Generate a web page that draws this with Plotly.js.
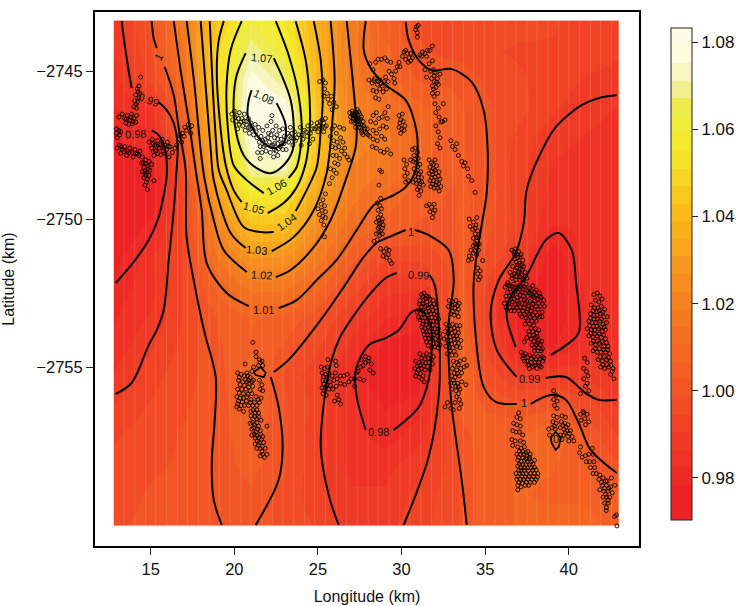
<!DOCTYPE html>
<html>
<head>
<meta charset="utf-8">
<script src="https://cdn.plot.ly/plotly-3.0.1.min.js"></script>
<style>html,body{margin:0;padding:0;background:#fff}</style>
</head>
<body>
<div id="chart" style="width:740px;height:606px"></div>
<script>
const lonNodes=[12.8,15,17,19,21,23,25,27,29,31,33,33.6,35,37,39,41,43];
const latNodes=[-2743.3,-2744.3,-2745.3,-2746.3,-2747.3,-2748.3,-2749.3,-2750.3,-2751.3,-2752.3,-2753.3,-2754.3,-2755.3,-2756.3,-2757.3,-2758.3,-2759.3,-2760.35];
const gridValues=[
[.989,.9995,1.018,1.045,1.063,1.055,1.037,1.017,1.005,.998,.998,.998,.997,.996,.995,.993,.991],
[.987,.998,1.015,1.05,1.07,1.06,1.037,1.016,1.008,.999,.997,.997,.995,.994,.994,.993,.991],
[.985,.996,1.011,1.051,1.078,1.068,1.038,1.017,1.009,1.002,1.002,1.001,.998,.995,.993,.990,.989],
[.982,.986,1.008,1.047,1.081,1.08,1.043,1.019,1.014,1.008,1.004,1.003,.9995,.996,.991,.988,.986],
[.978,.981,1.003,1.043,1.078,1.081,1.042,1.023,1.016,1.009,1.004,1.003,1.0003,.993,.988,.986,.985],
[.972,.975,.999,1.041,1.071,1.072,1.039,1.018,1.015,1.008,1.003,1.003,1.001,.992,.986,.984,.984],
[.972,.975,.995,1.03,1.055,1.052,1.031,1.016,1.009,1.004,1.002,1.003,1.002,.992,.985,.984,.984],
[.973,.98,.996,1.021,1.041,1.042,1.023,1.011,1.005,1.002,1.002,1.004,1.0,.993,.982,.983,.984],
[.976,.986,.995,1.015,1.027,1.026,1.017,1.004,.995,.9955,1.0,1.004,.998,.991,.975,.985,.985],
[.98,.985,.995,1.008,1.016,1.016,1.008,.997,.988,.987,1.0,1.004,.995,.978,.976,.983,.985],
[.982,.987,.995,1.003,1.007,1.006,1.0,.99,.983,.98,1.0,1.006,.992,.976,.975,.983,.985],
[.984,.99,.996,1.002,1.006,1.002,.995,.985,.977,.976,1.002,1.008,.995,.979,.978,.984,.986],
[.987,.993,.997,1.001,1.009,.998,.991,.981,.974,.976,1.002,1.008,.998,.99,.9895,.989,.987],
[.991,.995,.998,1.001,1.006,.9995,.993,.984,.978,.98,1.0,1.006,1.002,1.0,1.001,.997,.9895],
[.994,.997,.999,1.001,1.005,.9995,.9905,.985,.98,.985,.997,1.001,1.005,1.006,1.01,1.002,.994],
[.996,.998,.999,1.001,1.004,.999,.991,.985,.985,.989,.996,1.0,1.005,1.007,1.007,1.003,.999],
[.997,.999,.9995,1.0,1.002,.997,.992,.987,.987,.992,.997,.9995,1.005,1.007,1.006,1.006,1.003],
[.998,.9995,.9995,.9995,1.001,.997,.994,.988,.989,.993,.997,.9995,1.005,1.007,1.008,1.008,1.005]
];
const bandColors=['#ED2224','#ED2224','#EE2A25','#EF3225','#EF3A25','#F04325','#F14C25','#F25525','#F35E24','#F36723','#F36F22','#F47A20','#F58420','#F68E1F','#F7981E','#F9A61C','#FAB01B','#FBBB1A','#F9C81F','#F7D626','#F5E32A','#F3EA2B','#F1EC3C','#EEEB4E','#F1EE90','#F8F6C0','#FDFBE0','#FEFCE4'];
const colorMin=0.9703, colorMax=1.0833;
const colorTicks=[0.98,1.00,1.02,1.04,1.06,1.08];
const lonTicks=[15,20,25,30,35,40];
const latTicks=[-2745,-2750,-2755];
const seamLons=[13.4,14.05,14.7,15.3,15.95,16.6,17.2,17.85,18.5,19.1,19.75,20.4,21.0,21.65,22.3,22.9,23.55,24.2,24.8,25.45,26.1,26.7,27.35,28.0,28.6,29.25,29.9,30.5,31.15,31.8,32.4,33.05,33.7,34.3,34.95,35.6,36.2,36.85,37.5,38.1,38.75,39.4,40.0,40.65,41.3,41.9,42.55];

const c108Lon=[21.04,20.86,20.80,21.16,21.76,22.36,22.95,23.07,22.53];
const c108Lat=[-2745.64,-2745.98,-2746.49,-2746.99,-2747.43,-2747.60,-2747.43,-2746.82,-2746.08];
const c107Lon=[20.68,20.14,19.96,20.08,20.56,21.34,22.18,22.95,23.49,23.55,23.37,22.95,22.36];
const c107Lat=[-2744.39,-2745.14,-2745.98,-2746.99,-2747.84,-2748.28,-2748.45,-2748.18,-2747.67,-2746.82,-2745.98,-2745.30,-2744.56];
const c106aLon=[20.44,19.78,19.54,19.60,19.96,20.74,21.76];
const c106aLat=[-2743.31,-2744.29,-2745.47,-2746.82,-2748.18,-2748.68,-2749.12];
const c106bLon=[22.48,23.25,23.79,24.03,23.97,23.73,23.25];
const c106bLat=[-2743.31,-2744.46,-2745.64,-2746.82,-2747.57,-2748.24,-2748.61];
const c105aLon=[19.37,19.07,18.95,19.13,19.49,19.96,20.44];
const c105aLat=[-2743.31,-2743.95,-2744.97,-2746.66,-2748.18,-2749.02,-2749.43];
const c105bLon=[23.67,24.27,24.51,24.51,24.27,23.73,22.95,22.0];
const c105bLat=[-2743.31,-2744.63,-2745.98,-2746.99,-2748.11,-2748.92,-2749.46,-2749.80];
const c104aLon=[18.53,18.71,18.89,19.07,19.54,20.56,21.58,22.36];
const c104aLat=[-2743.31,-2745.54,-2747.23,-2748.34,-2749.02,-2750.27,-2750.44,-2750.44];
const c104bLon=[23.67,24.33,24.93,25.17,25.29,25.17,24.75];
const c104bLat=[-2749.73,-2749.02,-2748.24,-2746.99,-2745.98,-2744.63,-2743.31];
const c103aLon=[17.99,18.29,18.59,18.77,19.78,20.68];
const c103aLat=[-2743.31,-2745.54,-2747.67,-2748.68,-2750.47,-2750.98];
const c103bLon=[22.24,23.55,24.75,25.52,25.82,26.0,25.76];
const c103bLat=[-2751.08,-2750.61,-2749.70,-2748.45,-2746.99,-2745.30,-2743.31];
const c102aLon=[17.15,17.63,17.99,18.23,18.77,19.37,20.74];
const c102aLat=[-2743.31,-2745.54,-2747.67,-2748.68,-2750.03,-2751.05,-2751.79];
const c102bLon=[22.48,23.37,24.75,25.76,26.66,27.26,27.32,27.08,26.72];
const c102bLat=[-2751.96,-2751.72,-2750.95,-2750.03,-2748.68,-2747.57,-2746.99,-2745.30,-2743.31];
const c101aLon=[16.38,16.79,17.27,17.69,18.05,18.35,19.54,20.86];
const c101aLat=[-2743.31,-2744.97,-2746.66,-2748.34,-2749.70,-2751.49,-2752.50,-2752.94];
const c101bLon=[22.65,23.73,24.93,26.12,27.32,28.34,29.53,30.25,30.85,30.91,30.25,29.05,28.16,27.74,27.86];
const c101bLat=[-2753.01,-2752.74,-2752.06,-2751.38,-2750.37,-2749.53,-2749.19,-2748.92,-2748.34,-2747.09,-2745.98,-2745.47,-2744.90,-2744.29,-2743.31];
const c100aLon=[15.06,15.18,15.36];
const c100aLat=[-2743.31,-2743.89,-2744.22];
const c100bLon=[15.84,16.38,16.67,17.09,17.15,17.57,18.05,18.29,18.89,18.83,18.65,18.77,19.25];
const c100bLat=[-2744.86,-2745.81,-2746.89,-2748.34,-2750.61,-2752.06,-2753.41,-2753.99,-2755.34,-2756.79,-2758.24,-2759.49,-2760.34];
const c100cLon=[21.28,22.65,22.89,22.65,22.18];
const c100cLat=[-2760.34,-2758.82,-2757.70,-2756.35,-2755.34];
const c100dLon=[22.36,23.25,25.17,26.54,27.74,28.51,29.53,30.25];
const c100dLat=[-2755.17,-2754.76,-2753.41,-2752.30,-2751.28,-2750.81,-2750.54,-2750.37];
const c100eLon=[30.79,31.62,32.82,33.12,32.82,32.82,33.0,33.6,33.9];
const c100eLat=[-2750.37,-2750.54,-2751.05,-2752.06,-2753.51,-2754.76,-2756.35,-2758.82,-2760.34];
const c100fLon=[30.25,30.43,31.03,31.80,33.0,34.2,34.91,35.15,35.09,34.61,34.32,34.44,34.91,35.63,36.89];
const c100fLat=[-2743.34,-2743.95,-2744.63,-2744.97,-2744.93,-2745.37,-2746.32,-2747.67,-2749.12,-2750.81,-2752.06,-2753.99,-2755.67,-2756.18,-2756.25];
const c100gLon=[37.72,38.98,39.82,40.59,41.31,42.87];
const c100gLat=[-2756.25,-2755.94,-2756.11,-2756.89,-2757.80,-2758.58];
const c099aLon=[13.27,13.45,13.68,13.86];
const c099aLat=[-2743.31,-2744.12,-2744.97,-2745.57];
const c099bLon=[15.48,15.96,16.38,16.61,16.55,16.38,16.08,15.78,15.36,14.88,13.86,12.91];
const c099bLat=[-2746.05,-2746.32,-2746.76,-2747.50,-2748.34,-2749.70,-2751.38,-2753.07,-2753.75,-2754.26,-2755.54,-2755.91];
const c099cLon=[26.24,25.64,25.17,25.64,26.24,26.96,28.16,29.05,29.71];
const c099cLat=[-2760.34,-2759.32,-2757.70,-2755.20,-2754.09,-2753.41,-2752.50,-2751.99,-2751.82];
const c099dLon=[31.68,31.98,32.28,32.22,31.62,30.13];
const c099dLat=[-2751.89,-2752.23,-2754.32,-2756.01,-2758.04,-2760.34];
const c099eLon=[42.87,41.97,40.77,39.22,38.2,37.48,37.31,36.83,35.81,35.33,35.69,36.89];
const c099eLat=[-2745.81,-2745.88,-2746.15,-2746.89,-2747.91,-2749.02,-2750.13,-2751.15,-2752.06,-2753.17,-2754.42,-2755.34];
const c099fLon=[38.62,39.82,41.01,41.79,42.87];
const c099fLat=[-2755.37,-2755.34,-2755.88,-2756.11,-2756.11];
const c098aLon=[15.06,15.48,15.84,15.96,15.78,15.48,14.88,13.98,12.91];
const c098aLat=[-2747,-2747.16,-2747.6,-2748.51,-2749.19,-2749.93,-2750.71,-2751.45,-2752.16];
const c098bLon=[29.53,31.03,31.62,31.80,31.74,31.15,30.61,29.83,29.05,28.04,27.26,27.32,27.86];
const c098bLat=[-2757.13,-2756.35,-2755.44,-2754.42,-2753.58,-2753.07,-2753.14,-2753.75,-2754.02,-2754.26,-2755.10,-2756.01,-2757.13];
const c098cLon=[36.83,36.29,36.41,37.43,38.62,39.4,40.18,40.42,40.59,39.7,38.92];
const c098cLat=[-2754.32,-2753.31,-2752.74,-2751.96,-2750.71,-2750.47,-2751.05,-2752.06,-2753.85,-2754.32,-2754.59];
const loopALon=[21.16,21.58,21.88,21.76,21.28,21.16];
const loopALat=[-2755.17,-2755.0,-2755.2,-2755.34,-2755.27,-2755.17];
const loopBLon=[38.92,39.22,39.52,39.4,39.22,38.98,38.92];
const loopBLat=[-2757.40,-2757.19,-2757.40,-2757.70,-2757.80,-2757.57,-2757.40];

const labelText=['1.08','1.07','1.06','1.05','1.04','1.03','1.02','1.01','1','0.99','0.98','1','0.99','0.98','0.99','1','0'];
const labelLon=[21.76,21.64,22.53,21.16,23.13,21.34,21.64,21.76,15.48,14.88,14.10,30.55,31.03,28.64,37.66,37.31,39.22];
const labelLat=[-2745.88,-2744.56,-2748.92,-2749.63,-2750.10,-2751.05,-2751.89,-2753.07,-2744.53,-2745.98,-2747.13,-2750.44,-2751.89,-2757.20,-2755.40,-2756.21,-2757.43];
const labelAngle=[25,5,-30,15,-35,5,3,0,-60,20,-3,0,3,0,0,0,0];

const west=[14.4,-2745.2,14.3,-2745.5,14.2,-2745.6,14.35,-2745.75,14.1,-2745.8,14.3,-2745.9,14.05,-2746.0,14.2,-2746.05,14.0,-2746.2,14.15,-2746.25,13.1,-2746.55,13.3,-2746.45,13.45,-2746.6,13.6,-2746.5,13.75,-2746.65,13.85,-2746.45,14.0,-2746.6,14.15,-2746.5,13.5,-2746.75,13.7,-2746.8,13.9,-2746.78,14.1,-2746.72,12.95,-2746.95,13.1,-2747.0,12.95,-2747.1,13.15,-2747.15,13.0,-2747.25,13.2,-2747.05,13.0,-2747.6,13.15,-2747.5,13.3,-2747.65,13.45,-2747.55,13.6,-2747.7,13.75,-2747.6,13.9,-2747.75,14.05,-2747.65,14.2,-2747.8,14.35,-2747.7,13.2,-2747.78,13.55,-2747.85,13.95,-2747.9,14.5,-2747.9,14.7,-2748.0,14.45,-2748.1,14.9,-2748.05,14.6,-2748.25,14.8,-2748.2,15.05,-2748.15,14.5,-2748.4,14.75,-2748.45,14.95,-2748.35,14.6,-2748.6,14.8,-2748.65,14.65,-2748.85,14.8,-2749.0,15.2,-2748.7,14.9,-2747.4,15.1,-2747.3,15.25,-2747.5,15.4,-2747.35,15.55,-2747.45,15.7,-2747.3,15.85,-2747.5,16.0,-2747.4,15.05,-2747.6,15.3,-2747.7,15.5,-2747.6,15.75,-2747.7,15.95,-2747.65,16.15,-2747.55,15.2,-2747.85,15.6,-2747.82,16.3,-2747.75,16.45,-2747.6,16.1,-2747.9,16.55,-2747.5,16.7,-2747.3,16.85,-2747.4,17.0,-2747.2,16.9,-2747.1,17.15,-2747.0,17.05,-2746.9,17.3,-2746.95,17.25,-2746.8,17.45,-2746.85,17.4,-2747.1,16.75,-2747.15,13.25,-2747.55,13.4,-2747.72,13.7,-2747.75,14.1,-2747.78,14.3,-2747.85,14.55,-2748.1,14.72,-2748.12,14.85,-2748.3,14.65,-2748.38,14.7,-2748.52,14.9,-2748.52,14.75,-2748.75,15.15,-2747.45,15.35,-2747.55,15.6,-2747.5,15.8,-2747.6,16.05,-2747.55,15.15,-2747.72,15.42,-2747.78,15.85,-2747.78,13.55,-2746.62,13.8,-2746.55,13.95,-2746.7,14.25,-2745.7,14.12,-2746.12];
const centre=[19.85,-2746.45,20.0,-2746.35,20.15,-2746.5,19.9,-2746.65,20.1,-2746.7,20.3,-2746.4,20.45,-2746.6,20.6,-2746.45,20.3,-2746.8,20.5,-2746.85,20.7,-2746.7,20.85,-2746.6,20.2,-2746.95,20.65,-2747.0,20.85,-2746.9,21.0,-2746.75,21.1,-2746.95,21.25,-2746.8,20.9,-2747.1,21.3,-2747.05,21.45,-2746.9,21.6,-2747.2,21.5,-2747.4,21.7,-2747.0,21.85,-2747.3,21.75,-2747.55,21.95,-2746.85,22.05,-2747.1,22.1,-2747.4,21.9,-2747.7,22.2,-2746.7,22.3,-2747.0,22.4,-2747.25,22.3,-2747.5,22.15,-2747.75,22.5,-2746.85,22.55,-2747.15,22.6,-2747.45,22.5,-2747.7,22.7,-2747.0,22.8,-2747.3,22.75,-2747.55,22.9,-2746.95,23.0,-2747.2,22.95,-2747.45,23.1,-2747.65,23.2,-2747.1,23.25,-2747.4,23.35,-2746.9,23.4,-2747.25,23.5,-2747.5,23.6,-2747.05,23.65,-2747.35,21.65,-2747.75,22.35,-2747.9,21.4,-2747.75,21.55,-2747.95,22.6,-2747.85,22.25,-2746.5,23.85,-2747.15,23.95,-2746.9,24.1,-2747.3,24.2,-2747.0,24.35,-2747.2,24.4,-2746.85,24.55,-2747.1,24.6,-2746.75,24.7,-2747.3,24.8,-2746.95,24.95,-2746.75,25.0,-2747.05,25.15,-2746.7,25.2,-2746.9,25.35,-2746.75,25.35,-2747.05,25.5,-2746.85,25.45,-2746.6,24.0,-2747.5,24.5,-2747.45,20.05,-2746.55,20.25,-2746.6,20.4,-2746.72,20.58,-2746.68,20.75,-2746.82,20.95,-2746.95,21.15,-2747.15,21.35,-2747.25,21.55,-2747.55,21.7,-2747.35,21.85,-2747.5,22.0,-2747.25,22.2,-2747.15,22.2,-2747.55,22.4,-2747.45,22.4,-2747.65,22.6,-2747.3,22.65,-2747.62,22.85,-2747.45,22.9,-2747.65,23.1,-2747.35,23.3,-2747.2,23.45,-2747.1,23.55,-2747.3,23.75,-2747.25,24.05,-2747.15,24.3,-2747.05,24.65,-2746.95,24.9,-2746.9,25.05,-2746.85,25.25,-2746.65,25.4,-2746.9];
const ridge=[25.1,-2745.35,25.3,-2745.3,25.45,-2745.4,25.4,-2745.6,25.55,-2745.75,25.35,-2745.85,25.6,-2745.95,25.8,-2745.85,25.7,-2746.1,25.95,-2746.05,26.1,-2746.2,25.85,-2746.3,25.85,-2746.95,26.0,-2746.85,26.1,-2747.1,26.3,-2746.9,26.55,-2746.95,25.75,-2747.2,25.95,-2747.35,26.15,-2747.4,26.35,-2747.25,26.5,-2747.4,25.85,-2747.55,26.05,-2747.6,26.25,-2747.55,26.4,-2747.7,26.6,-2747.6,25.9,-2747.85,26.1,-2747.85,26.3,-2747.95,26.0,-2748.1,26.2,-2748.15,25.75,-2748.3,25.95,-2748.35,26.1,-2748.45,25.85,-2748.6,26.6,-2747.8,26.75,-2747.9,26.85,-2748.0,25.69,-2748.8,25.45,-2749.15,25.3,-2749.35,25.2,-2749.5,25.4,-2749.55,25.0,-2749.65,25.25,-2749.7,25.45,-2749.75,25.1,-2749.85,25.3,-2749.9,25.45,-2749.95,25.2,-2750.05,25.35,-2750.2,25.39,-2750.6];
const blob=[26.9,-2746.4,27.05,-2746.35,27.2,-2746.45,27.35,-2746.3,27.5,-2746.45,26.95,-2746.55,27.1,-2746.6,27.3,-2746.55,27.45,-2746.65,27.6,-2746.55,27.0,-2746.7,27.2,-2746.75,27.35,-2746.7,27.55,-2746.8,27.7,-2746.7,27.25,-2746.9,27.45,-2746.9,27.6,-2747.0,27.75,-2746.85,27.85,-2747.05,27.7,-2747.15,27.95,-2746.95,28.0,-2747.15,27.4,-2746.5,27.15,-2746.5,27.1,-2746.42,27.28,-2746.38,27.45,-2746.38,27.05,-2746.48,27.22,-2746.52,27.38,-2746.6,27.55,-2746.62,27.12,-2746.68,27.28,-2746.65,27.5,-2746.72,27.42,-2746.8,27.65,-2746.82,27.55,-2746.92,27.8,-2746.95,27.9,-2747.1,27.62,-2747.08];
const north=[28.1,-2744.75,28.3,-2744.95,28.45,-2744.7,28.6,-2744.6,28.8,-2744.6,29.0,-2744.55,29.15,-2744.65,29.35,-2744.7,28.05,-2745.3,28.25,-2745.4,28.4,-2745.25,28.55,-2745.45,28.7,-2745.3,28.85,-2745.5,29.05,-2745.2,29.2,-2745.35,29.4,-2745.1,29.55,-2745.25,28.3,-2745.65,28.5,-2745.7,28.7,-2745.6,28.45,-2745.9,28.65,-2745.95,28.9,-2745.7,29.1,-2745.6,29.25,-2745.0,29.65,-2745.0,29.75,-2744.85,29.85,-2744.7,29.9,-2744.85,29.6,-2745.4,30.05,-2744.5,30.15,-2744.35,30.25,-2744.6,30.35,-2744.4,30.45,-2744.55,30.55,-2744.4,30.65,-2744.55,30.25,-2744.3,30.4,-2744.7,30.55,-2744.65,30.9,-2743.5,31.0,-2743.45,30.85,-2743.6,30.95,-2743.7,30.95,-2743.85,31.1,-2744.45,31.25,-2744.35,31.4,-2744.4,31.55,-2744.3,31.7,-2744.3,31.85,-2744.15,31.2,-2744.5,31.5,-2744.5,31.4,-2744.95,31.5,-2745.2,31.65,-2744.75,31.85,-2744.65,31.9,-2744.95,31.75,-2745.0,32.0,-2745.05,31.8,-2745.25,31.95,-2745.35,32.15,-2745.25,32.3,-2745.1,31.85,-2745.5,32.05,-2745.55,32.2,-2745.45,31.85,-2745.75,31.95,-2745.85,32.15,-2745.75,32.0,-2746.1,32.2,-2746.25,32.05,-2746.4,32.25,-2746.55,32.45,-2746.7,32.6,-2746.65,32.5,-2746.1,32.35,-2746.72,32.05,-2746.85,32.2,-2747.05,32.3,-2747.25,32.15,-2747.45,32.3,-2747.6,32.95,-2747.35,33.05,-2747.55,33.2,-2747.65,33.3,-2747.45,33.4,-2747.85,33.6,-2748.05,33.7,-2748.2,33.8,-2748.1,33.95,-2748.3,34.0,-2748.55,34.2,-2748.7,34.4,-2749.1,28.35,-2745.32,28.6,-2745.35,28.78,-2745.42,28.95,-2745.35,31.95,-2745.15,32.1,-2745.38,31.92,-2745.6];
const midNorth=[28.3,-2746.5,28.5,-2746.4,28.15,-2746.7,28.45,-2746.75,28.65,-2746.6,28.85,-2746.55,29.0,-2746.4,29.15,-2746.6,28.3,-2747.0,28.5,-2747.1,28.7,-2746.95,28.9,-2746.85,29.1,-2746.9,28.1,-2747.2,28.3,-2747.3,28.55,-2747.35,28.8,-2747.2,29.0,-2747.3,28.25,-2747.55,28.5,-2747.6,28.75,-2747.7,28.95,-2747.75,29.15,-2747.65,29.35,-2747.8,29.2,-2746.2,29.85,-2746.5,30.05,-2746.45,29.95,-2746.65,30.1,-2746.7,29.85,-2746.9,30.0,-2746.95,30.15,-2747.0,29.95,-2747.1,30.2,-2746.85,29.9,-2746.75,30.15,-2748.0,30.3,-2748.15,30.2,-2748.3,30.35,-2748.45,30.2,-2748.55,30.4,-2748.7,30.25,-2748.75,30.55,-2748.0,30.65,-2747.65,30.8,-2747.6,30.95,-2747.75,30.75,-2747.85,31.0,-2747.95,30.7,-2748.05,30.9,-2748.1,31.1,-2748.15,30.75,-2748.3,30.95,-2748.35,31.15,-2748.4,30.8,-2748.55,31.0,-2748.6,31.2,-2748.6,30.7,-2748.75,30.9,-2748.8,31.1,-2748.8,31.3,-2748.85,30.95,-2749.0,31.15,-2749.05,31.05,-2749.2,31.65,-2748.0,31.8,-2748.1,32.0,-2748.0,31.7,-2748.25,31.9,-2748.3,32.1,-2748.2,31.65,-2748.45,31.85,-2748.5,32.05,-2748.45,32.25,-2748.4,31.7,-2748.7,31.9,-2748.7,32.1,-2748.75,32.3,-2748.65,31.75,-2748.9,31.95,-2748.95,32.15,-2748.95,32.35,-2748.9,32.25,-2749.05,31.9,-2748.15,31.5,-2749.55,31.65,-2749.5,31.8,-2749.6,31.95,-2749.5,31.7,-2749.75,31.9,-2749.8,31.85,-2749.95,32.0,-2749.7,30.78,-2747.98,30.98,-2748.22,30.85,-2748.42,31.05,-2748.47,30.85,-2748.68,31.02,-2748.7,31.2,-2748.75,31.05,-2748.92,31.8,-2748.38,32.0,-2748.35,31.8,-2748.6,32.0,-2748.58,32.2,-2748.55,31.85,-2748.82,32.05,-2748.85,32.22,-2748.8];
const column=[28.7,-2748.35,28.8,-2748.4,28.65,-2748.85,28.75,-2749.3,28.55,-2749.45,28.7,-2749.55,28.8,-2749.65,28.6,-2749.7,28.75,-2749.85,28.6,-2749.95,28.85,-2750.0,28.5,-2750.1,28.7,-2750.15,28.9,-2750.2,28.6,-2750.3,28.75,-2750.4,28.5,-2750.5,28.7,-2750.55,28.85,-2750.5,28.55,-2750.7,28.35,-2750.75,28.75,-2751.0,28.95,-2751.1,29.1,-2751.0,29.25,-2751.05,28.9,-2751.25,29.1,-2751.3,29.2,-2751.2,29.3,-2751.4,29.4,-2751.5,34.5,-2749.95,34.05,-2750.0,34.3,-2750.1,34.45,-2750.2,34.1,-2750.25,34.25,-2750.35,34.55,-2750.4,34.4,-2750.5,34.6,-2750.6,34.3,-2750.65,34.5,-2750.75,34.65,-2750.85,34.3,-2750.9,34.45,-2750.95,34.6,-2751.05,34.15,-2751.05,34.3,-2751.15,34.5,-2751.2,34.05,-2751.25,34.2,-2751.35,34.0,-2751.4,34.85,-2751.4,34.55,-2751.65,34.7,-2751.75,34.55,-2751.85,34.7,-2751.95,34.6,-2752.05,28.65,-2750.05,28.8,-2750.1,28.68,-2750.25,28.85,-2750.3,28.65,-2750.45,34.4,-2750.3,34.48,-2750.62,34.4,-2750.83,34.52,-2750.87,34.38,-2751.07];
const eastDense=[36.6,-2751.05,36.8,-2751.0,37.0,-2751.1,36.75,-2751.2,36.95,-2751.3,37.15,-2751.2,36.85,-2751.45,37.05,-2751.5,37.25,-2751.4,36.65,-2751.6,36.9,-2751.65,37.1,-2751.7,37.3,-2751.6,36.5,-2751.8,36.75,-2751.85,36.95,-2751.85,37.2,-2751.9,37.4,-2751.8,36.6,-2752.0,36.85,-2752.05,37.05,-2752.05,37.3,-2752.05,37.5,-2752.0,36.2,-2752.3,36.35,-2752.15,36.5,-2752.35,36.7,-2752.2,36.85,-2752.4,37.05,-2752.25,37.25,-2752.35,37.45,-2752.2,37.65,-2752.35,37.85,-2752.25,38.05,-2752.4,38.25,-2752.5,36.25,-2752.6,36.45,-2752.6,36.65,-2752.55,36.9,-2752.65,37.1,-2752.55,37.3,-2752.6,37.55,-2752.6,37.75,-2752.55,37.95,-2752.65,38.15,-2752.7,38.35,-2752.65,38.5,-2752.75,36.15,-2752.85,36.4,-2752.85,36.6,-2752.8,36.8,-2752.9,37.0,-2752.85,37.2,-2752.85,37.4,-2752.85,37.6,-2752.95,37.85,-2752.85,38.05,-2752.95,38.3,-2752.95,38.55,-2752.95,36.3,-2753.05,36.55,-2753.1,36.75,-2753.1,37.0,-2753.1,37.25,-2753.1,37.5,-2753.15,37.75,-2753.1,38.0,-2753.15,38.4,-2753.15,37.2,-2753.3,37.45,-2753.35,37.7,-2753.3,37.95,-2753.35,38.25,-2753.3,37.4,-2753.55,37.65,-2753.55,37.9,-2753.6,37.6,-2753.8,37.85,-2753.8,38.1,-2753.85,37.5,-2754.0,37.75,-2754.05,38.0,-2754.0,38.2,-2754.1,37.35,-2754.15,37.8,-2754.25,38.05,-2754.25,38.3,-2754.25,37.95,-2754.45,38.15,-2754.45,38.35,-2754.45,37.15,-2754.5,37.4,-2754.55,37.65,-2754.6,37.9,-2754.65,38.15,-2754.65,38.4,-2754.65,37.25,-2754.7,37.5,-2754.8,37.75,-2754.85,38.0,-2754.85,38.2,-2754.85,38.45,-2754.8,37.65,-2755.05,37.85,-2755.0,38.1,-2755.05,38.35,-2755.0,37.55,-2754.95,36.72,-2751.1,36.88,-2751.17,37.08,-2751.28,36.77,-2751.35,36.95,-2751.55,37.18,-2751.55,36.8,-2751.72,37.0,-2751.78,37.22,-2751.72,36.62,-2751.9,36.88,-2751.93,37.12,-2751.96,37.38,-2751.95,36.3,-2752.22,36.45,-2752.25,36.6,-2752.28,36.78,-2752.32,36.95,-2752.3,37.15,-2752.28,37.35,-2752.28,37.55,-2752.42,37.75,-2752.42,37.95,-2752.48,36.33,-2752.48,36.55,-2752.48,36.75,-2752.47,36.98,-2752.47,37.2,-2752.47,37.42,-2752.5,37.65,-2752.5,37.85,-2752.62,38.05,-2752.58,38.25,-2752.62,36.3,-2752.72,36.52,-2752.72,36.73,-2752.7,36.95,-2752.77,37.15,-2752.72,37.35,-2752.73,37.5,-2752.78,37.7,-2752.78,37.95,-2752.78,38.2,-2752.85,38.42,-2752.87,36.25,-2752.98,36.47,-2752.98,36.7,-2752.97,36.9,-2753.0,37.1,-2752.98,37.32,-2753.0,37.55,-2753.03,37.8,-2753.0,38.15,-2753.05,37.1,-2753.22,37.35,-2753.22,37.6,-2753.2,37.85,-2753.25,38.1,-2753.25,38.4,-2753.3,37.55,-2753.42,37.8,-2753.45,38.05,-2753.45,37.75,-2753.68,38.0,-2753.7,38.2,-2753.75,37.65,-2753.93,37.9,-2753.93,38.1,-2753.97,37.9,-2754.13,38.15,-2754.18,38.38,-2754.13,37.95,-2754.33,38.2,-2754.35,38.42,-2754.38,37.3,-2754.62,37.55,-2754.67,37.78,-2754.72,38.05,-2754.73,38.28,-2754.73,38.5,-2754.7,37.35,-2754.8,37.62,-2754.92,37.95,-2754.95,38.25,-2754.95];
const farEast=[41.5,-2752.55,41.7,-2752.5,41.85,-2752.6,41.6,-2752.75,41.8,-2752.8,42.0,-2752.7,41.35,-2752.9,41.55,-2753.0,41.75,-2753.0,41.95,-2752.95,42.15,-2753.05,41.3,-2753.2,41.5,-2753.25,41.7,-2753.25,41.9,-2753.2,42.1,-2753.3,42.3,-2753.3,41.2,-2753.45,41.4,-2753.5,41.6,-2753.5,41.85,-2753.45,42.05,-2753.55,42.25,-2753.5,41.1,-2753.7,41.35,-2753.75,41.55,-2753.75,41.8,-2753.7,42.0,-2753.8,42.2,-2753.75,41.2,-2753.95,41.45,-2754.0,41.7,-2753.95,41.95,-2754.0,42.2,-2754.05,41.35,-2754.2,41.6,-2754.25,41.85,-2754.2,42.1,-2754.3,42.35,-2754.3,41.45,-2754.45,41.7,-2754.5,41.95,-2754.5,42.2,-2754.5,42.45,-2754.55,41.75,-2754.75,42.0,-2754.8,42.25,-2754.75,42.5,-2754.8,41.9,-2755.0,42.15,-2755.05,42.4,-2755.0,42.65,-2755.05,42.5,-2755.25,42.7,-2755.4,42.6,-2755.15,40.95,-2754.7,41.1,-2754.85,40.9,-2755.05,41.05,-2755.15,41.15,-2755.3,40.9,-2755.4,41.1,-2755.55,41.2,-2755.8,41.0,-2755.65,41.45,-2753.1,41.65,-2753.13,41.82,-2753.1,42.02,-2753.15,41.3,-2753.35,41.5,-2753.38,41.72,-2753.38,41.95,-2753.38,41.25,-2753.6,41.47,-2753.62,41.7,-2753.62,41.92,-2753.65,42.12,-2753.65,41.32,-2753.85,41.57,-2753.88,41.82,-2753.88,42.08,-2753.92,41.47,-2754.12,41.72,-2754.12,41.98,-2754.15,42.25,-2754.18,41.58,-2754.38,41.83,-2754.38,42.08,-2754.42,42.32,-2754.42,41.87,-2754.65,42.12,-2754.65,42.37,-2754.68,42.02,-2754.92,42.28,-2754.92,42.52,-2754.95];
const midSouth=[31.2,-2752.55,31.35,-2752.5,31.5,-2752.6,31.1,-2752.75,31.3,-2752.75,31.5,-2752.8,31.7,-2752.7,31.9,-2752.75,31.2,-2752.95,31.4,-2752.95,31.6,-2753.0,31.8,-2752.95,32.05,-2753.0,30.95,-2753.15,31.15,-2753.2,31.35,-2753.2,31.55,-2753.25,31.75,-2753.2,31.95,-2753.2,32.15,-2753.25,31.1,-2753.4,31.3,-2753.45,31.5,-2753.45,31.7,-2753.45,31.9,-2753.45,32.1,-2753.45,31.2,-2753.65,31.4,-2753.7,31.6,-2753.65,31.8,-2753.7,32.0,-2753.7,32.2,-2753.7,31.35,-2753.9,31.55,-2753.9,31.75,-2753.95,31.95,-2753.9,32.15,-2753.95,32.3,-2754.0,31.5,-2754.15,31.7,-2754.15,31.9,-2754.2,32.1,-2754.2,32.3,-2754.25,31.8,-2754.35,31.1,-2754.55,31.3,-2754.6,31.5,-2754.55,31.7,-2754.6,31.9,-2754.65,30.85,-2754.8,31.05,-2754.85,31.25,-2754.8,31.45,-2754.85,31.65,-2754.85,31.85,-2754.9,30.8,-2755.05,31.0,-2755.1,31.2,-2755.05,31.4,-2755.1,31.7,-2755.1,30.85,-2755.3,31.05,-2755.35,31.3,-2755.3,31.35,-2755.5,31.27,-2752.62,31.43,-2752.68,31.62,-2752.63,31.08,-2752.88,31.28,-2752.86,31.51,-2752.92,31.72,-2752.88,31.93,-2752.87,31.03,-2753.08,31.26,-2753.1,31.46,-2753.13,31.67,-2753.11,31.87,-2753.09,32.08,-2753.12,31.02,-2753.32,31.21,-2753.34,31.42,-2753.33,31.6,-2753.37,31.81,-2753.33,32.02,-2753.36,32.22,-2753.38,31.27,-2753.55,31.47,-2753.58,31.68,-2753.56,31.9,-2753.58,32.12,-2753.6,31.29,-2753.78,31.49,-2753.81,31.67,-2753.8,31.89,-2753.82,32.08,-2753.84,32.27,-2753.87,31.43,-2754.03,31.63,-2754.03,31.83,-2754.07,32.03,-2754.05,32.22,-2754.12,31.6,-2754.28,31.98,-2754.32,32.2,-2754.36,31.2,-2754.7,31.4,-2754.72,31.58,-2754.71,31.78,-2754.75,30.95,-2754.97,31.12,-2754.95,31.33,-2754.97,31.55,-2754.98,30.92,-2755.2,31.13,-2755.22,31.22,-2755.42];
const midColumn=[32.85,-2752.75,33.05,-2752.8,33.25,-2752.75,33.45,-2752.85,32.8,-2752.95,33.0,-2753.0,33.2,-2753.0,33.4,-2753.05,32.95,-2753.2,33.15,-2753.25,33.4,-2753.3,32.65,-2753.55,32.85,-2753.6,33.05,-2753.55,33.3,-2753.6,33.5,-2753.6,32.6,-2753.8,32.8,-2753.85,33.0,-2753.85,33.2,-2753.8,33.4,-2753.85,32.55,-2754.05,32.75,-2754.1,32.95,-2754.1,33.15,-2754.05,33.35,-2754.05,33.55,-2754.1,32.65,-2754.3,32.85,-2754.35,33.05,-2754.35,33.3,-2754.3,33.5,-2754.35,32.75,-2754.55,33.0,-2754.6,33.25,-2754.6,33.1,-2754.8,33.3,-2754.85,33.5,-2754.8,33.75,-2754.75,33.9,-2754.95,33.05,-2755.05,33.3,-2755.1,33.55,-2755.05,33.75,-2755.0,33.0,-2755.3,33.2,-2755.35,33.45,-2755.3,33.6,-2755.2,32.95,-2755.55,33.15,-2755.55,33.35,-2755.55,33.6,-2755.5,33.85,-2755.6,33.0,-2755.75,33.25,-2755.8,33.5,-2755.75,33.3,-2756.0,33.45,-2756.1,33.55,-2756.25,33.2,-2756.2,32.75,-2756.2,32.6,-2756.35,32.95,-2756.4,33.1,-2756.45,33.45,-2756.4,33.0,-2752.9,33.2,-2752.88,33.35,-2752.92,33.05,-2753.12,33.3,-2753.15,32.75,-2753.7,32.95,-2753.72,33.15,-2753.68,33.35,-2753.72,32.7,-2753.98,32.9,-2753.98,33.1,-2753.95,33.3,-2753.95,32.8,-2754.2,33.0,-2754.22,33.2,-2754.2,33.4,-2754.2,32.9,-2754.45,33.15,-2754.47,33.4,-2754.92,33.15,-2754.95,33.15,-2755.2,33.35,-2755.22,33.1,-2755.45,33.25,-2755.65,33.4,-2755.68,33.4,-2755.9];
const southEast=[37.0,-2756.55,36.9,-2756.7,37.1,-2756.75,36.7,-2756.9,36.9,-2756.95,37.1,-2757.0,36.65,-2757.15,36.85,-2757.2,37.05,-2757.2,37.25,-2757.3,36.6,-2757.45,36.8,-2757.5,37.1,-2757.5,37.3,-2757.55,36.65,-2757.65,36.95,-2757.7,37.15,-2757.75,37.35,-2757.7,37.55,-2757.85,36.9,-2757.95,37.1,-2757.95,37.3,-2757.95,37.5,-2758.0,37.7,-2757.95,36.95,-2758.15,37.15,-2758.2,37.35,-2758.15,37.55,-2758.2,37.75,-2758.2,37.95,-2758.15,36.95,-2758.35,37.15,-2758.4,37.35,-2758.4,37.55,-2758.4,37.75,-2758.4,37.95,-2758.4,36.85,-2758.6,37.05,-2758.6,37.25,-2758.6,37.45,-2758.6,37.7,-2758.6,37.95,-2758.6,38.15,-2758.6,36.9,-2758.8,37.1,-2758.8,37.3,-2758.8,37.55,-2758.8,37.8,-2758.8,38.05,-2758.8,36.95,-2759.0,37.15,-2759.05,37.4,-2759.0,37.6,-2759.0,36.95,-2759.15,37.05,-2757.85,37.25,-2757.85,37.45,-2757.9,37.65,-2758.05,37.0,-2758.05,37.25,-2758.07,37.45,-2758.1,37.65,-2758.12,37.85,-2758.28,37.05,-2758.28,37.25,-2758.3,37.45,-2758.3,37.65,-2758.3,37.85,-2758.48,37.0,-2758.5,37.15,-2758.5,37.35,-2758.5,37.58,-2758.5,38.05,-2758.48,36.95,-2758.7,37.2,-2758.7,37.4,-2758.72,37.62,-2758.7,37.88,-2758.7,38.12,-2758.72,37.02,-2758.9,37.22,-2758.92,37.47,-2758.9,37.7,-2758.9,37.95,-2758.9];
const southFar=[39.1,-2755.8,39.25,-2755.95,39.1,-2756.1,39.3,-2756.15,39.15,-2756.3,39.3,-2756.4,39.1,-2756.65,39.3,-2756.7,39.05,-2756.85,39.25,-2756.9,39.6,-2756.65,39.8,-2756.7,39.55,-2756.85,39.75,-2756.9,39.95,-2756.95,38.8,-2757.1,39.0,-2757.05,39.2,-2757.1,39.5,-2757.05,39.7,-2757.1,39.9,-2757.15,40.1,-2757.15,38.85,-2757.3,39.5,-2757.3,39.7,-2757.3,39.95,-2757.35,40.2,-2757.35,40.3,-2757.5,39.6,-2757.45,40.0,-2757.5,40.7,-2756.6,40.9,-2756.55,41.1,-2756.6,40.75,-2756.8,40.95,-2756.75,41.2,-2756.85,41.0,-2756.95,40.85,-2756.5,40.7,-2755.9,40.7,-2757.7,40.65,-2757.9,40.8,-2758.05,41.0,-2758.0,41.2,-2757.95,41.4,-2757.75,41.45,-2757.95,41.05,-2758.2,41.25,-2758.2,41.5,-2758.2,41.3,-2758.4,41.55,-2758.4,41.45,-2758.6,41.65,-2758.6,41.85,-2758.65,41.8,-2758.8,42.05,-2758.75,42.3,-2758.85,42.55,-2758.75,42.0,-2759.0,42.25,-2759.0,42.5,-2759.05,42.75,-2759.0,41.85,-2759.15,42.1,-2759.2,42.35,-2759.2,42.6,-2759.25,42.05,-2759.4,42.25,-2759.4,42.45,-2759.4,42.15,-2759.6,42.35,-2759.6,42.25,-2759.75,42.24,-2759.85,42.75,-2760.05,42.85,-2760.0,42.88,-2760.37,39.15,-2757.0,39.65,-2756.98,39.85,-2757.03,40.05,-2757.25,39.8,-2757.22,42.15,-2759.1,42.4,-2759.1,42.2,-2759.3,42.35,-2759.5,41.95,-2758.9,42.2,-2758.85];
const southWest=[21.1,-2754.17,21.3,-2754.5,21.3,-2754.65,21.5,-2754.75,21.65,-2754.8,21.45,-2754.95,21.7,-2754.95,21.55,-2754.85,20.65,-2754.9,20.75,-2755.2,21.15,-2755.0,21.05,-2755.15,20.2,-2755.2,20.4,-2755.25,20.6,-2755.3,20.8,-2755.3,20.95,-2755.35,21.15,-2755.45,20.25,-2755.45,20.5,-2755.5,20.75,-2755.5,20.9,-2755.55,21.5,-2755.45,21.65,-2755.6,21.55,-2755.75,21.7,-2755.8,20.2,-2755.75,20.45,-2755.75,20.7,-2755.75,20.95,-2755.8,21.1,-2755.65,20.15,-2756.0,20.35,-2756.05,20.55,-2756.05,20.75,-2756.0,21.0,-2756.1,21.3,-2756.0,21.6,-2756.05,20.2,-2756.25,20.4,-2756.3,20.6,-2756.3,20.85,-2756.3,21.1,-2756.3,21.35,-2756.3,21.5,-2756.2,20.15,-2756.35,20.55,-2756.5,21.0,-2756.5,21.25,-2756.55,21.45,-2756.55,21.1,-2756.75,21.35,-2756.75,21.6,-2756.8,20.95,-2756.9,21.2,-2756.95,21.45,-2757.0,21.05,-2757.1,21.3,-2757.2,21.55,-2757.15,21.95,-2757.0,21.05,-2757.3,21.25,-2757.4,21.45,-2757.4,21.7,-2757.35,21.25,-2757.6,21.5,-2757.55,21.75,-2757.55,21.35,-2757.75,21.55,-2757.75,21.85,-2757.75,21.7,-2757.95,21.8,-2758.05,21.55,-2758.0,21.95,-2757.95,20.3,-2755.35,20.65,-2755.42,20.85,-2755.45,21.05,-2755.5,20.35,-2755.6,20.6,-2755.62,20.85,-2755.68,20.3,-2755.88,20.55,-2755.9,20.82,-2755.92,21.05,-2755.9,20.25,-2756.15,20.48,-2756.18,20.72,-2756.15,20.95,-2756.2,21.2,-2756.2,21.42,-2756.1,20.3,-2756.42,21.12,-2756.45,21.35,-2756.45,21.0,-2756.65,21.22,-2756.68,21.48,-2756.7,21.1,-2756.88,21.35,-2756.88,21.15,-2757.05,21.4,-2757.1,21.2,-2757.27,21.35,-2757.32,21.58,-2757.28,21.38,-2757.5,21.62,-2757.45,21.45,-2757.65,21.68,-2757.68,21.65,-2757.85];
const southMid=[25.6,-2754.75,25.2,-2755.0,25.4,-2755.05,25.55,-2755.0,25.25,-2755.2,25.45,-2755.25,25.65,-2755.2,25.85,-2755.3,26.05,-2755.2,25.3,-2755.45,25.5,-2755.45,25.7,-2755.5,25.95,-2755.45,26.15,-2755.4,26.35,-2755.3,26.55,-2755.3,26.75,-2755.25,25.25,-2755.7,25.45,-2755.7,25.65,-2755.75,25.9,-2755.75,26.1,-2755.65,26.35,-2755.55,26.6,-2755.6,26.85,-2755.5,27.0,-2755.4,25.3,-2755.9,25.5,-2755.95,26.15,-2755.95,26.25,-2756.1,26.35,-2756.25,26.0,-2756.15,27.2,-2755.4,27.2,-2755.65,27.4,-2755.15,27.55,-2755.0,27.7,-2754.95,27.85,-2754.85,27.6,-2754.75,27.85,-2754.65,28.0,-2754.8,27.3,-2755.2,27.5,-2755.4,27.75,-2755.45,26.1,-2754.95,26.05,-2754.8,28.05,-2754.7,28.2,-2754.9,28.1,-2755.1,28.3,-2755.2,25.35,-2755.33,25.55,-2755.35,25.35,-2755.58,25.55,-2755.6,25.75,-2755.62,25.38,-2755.8];

const pointGroups=[west,centre,ridge,blob,north,midNorth,column,eastDense,farEast,midSouth,midColumn,southEast,southFar,southWest,southMid];
const smoothLines=[[c108Lon,c108Lat],[c107Lon,c107Lat],[c106aLon,c106aLat],[c106bLon,c106bLat],[c105aLon,c105aLat],[c105bLon,c105bLat],[c104aLon,c104aLat],[c104bLon,c104bLat],[c103aLon,c103aLat],[c103bLon,c103bLat],[c102aLon,c102aLat],[c102bLon,c102bLat],[c101aLon,c101aLat],[c101bLon,c101bLat],[c100aLon,c100aLat],[c100bLon,c100bLat],[c100cLon,c100cLat],[c100dLon,c100dLat],[c100eLon,c100eLat],[c100fLon,c100fLat],[c100gLon,c100gLat],[c099aLon,c099aLat],[c099bLon,c099bLat],[c099cLon,c099cLat],[c099dLon,c099dLat],[c099eLon,c099eLat],[c099fLon,c099fLat],[c098aLon,c098aLat],[c098bLon,c098bLat],[c098cLon,c098cLat]];
const sharpLines=[[loopALon,loopALat],[loopBLon,loopBLat]];

const W=740,H=606,FL=95,FR=639,FT=12,FB=546;
const FONT='"Liberation Sans", Arial, sans-serif';

const scale=[];
bandColors.forEach((c,i)=>{const n=bandColors.length;scale.push([i/n,c]);scale.push([(i+1)/n,c]);});

const padAxis=a=>{const d=a[1]>a[0]?0.02:-0.02;const l=a.length-1;return [a[0],a[0]+d,...a.slice(1,l),a[l]-d,a[l]];};
const padRow=r=>[r[0],...r,r[r.length-1]];
const zPad=[gridValues[0],...gridValues,gridValues[gridValues.length-1]].map(padRow);

const traces=[{
  type:'heatmap',x:padAxis(lonNodes),y:padAxis(latNodes),z:zPad,zsmooth:'best',
  zmin:colorMin,zmax:colorMax,colorscale:scale,hoverinfo:'skip',
  colorbar:{x:671/W,xanchor:'left',y:(H-520)/H,yanchor:'bottom',lenmode:'fraction',len:(520-27.6)/H,
    thickness:21,thicknessmode:'pixels',xpad:0,ypad:0,outlinewidth:1,outlinecolor:'#222',
    tickmode:'array',tickvals:colorTicks,ticktext:colorTicks.map(v=>v.toFixed(2)),ticks:'outside',ticklen:6,tickwidth:1,tickcolor:'#222',
    tickfont:{family:FONT,size:17,color:'#111'}}
}];
const seamX=[],seamY=[];
seamLons.forEach(v=>{seamX.push(v,v,null);seamY.push(latNodes[0],latNodes[latNodes.length-1],null);});
traces.push({type:'scatter',mode:'lines',x:seamX,y:seamY,hoverinfo:'skip',line:{color:'rgba(255,255,255,0.13)',width:1}});
pointGroups.forEach(g=>{
  traces.push({type:'scatter',mode:'markers',x:g.filter((_,i)=>i%2===0),y:g.filter((_,i)=>i%2===1),hoverinfo:'skip',
    marker:{symbol:'circle-open',size:4,color:'#000',line:{width:0.85,color:'#000'}}});
});
smoothLines.forEach(s=>{
  traces.push({type:'scatter',mode:'lines',x:s[0],y:s[1],hoverinfo:'skip',line:{color:'#000',width:2,shape:'spline',smoothing:0.9}});
});
sharpLines.forEach(s=>{
  traces.push({type:'scatter',mode:'lines',x:s[0],y:s[1],hoverinfo:'skip',line:{color:'#000',width:1.8}});
});

const annotations=labelText.map((t,i)=>({xref:'x',yref:'y',x:labelLon[i],y:labelLat[i],text:t,textangle:labelAngle[i],showarrow:false,
  xanchor:'center',yanchor:'middle',font:{family:FONT,size:11,color:'#111'}}));

const axisBase={showgrid:false,zeroline:false,showline:true,mirror:true,linecolor:'#000',linewidth:2,ticks:'outside',ticklen:7,tickwidth:1,tickcolor:'#222',
  tickfont:{family:FONT,size:16.5,color:'#111'},automargin:false};
const layout={
  width:W,height:H,margin:{l:0,r:0,t:0,b:0},paper_bgcolor:'#fff',plot_bgcolor:'#fff',showlegend:false,annotations:annotations,
  xaxis:Object.assign({},axisBase,{domain:[FL/W,FR/W],range:[11.67,44.2],tickmode:'array',tickvals:lonTicks,
    title:{text:'Longitude (km)',standoff:14,font:{family:FONT,size:16,color:'#111'}}}),
  yaxis:Object.assign({},axisBase,{domain:[(H-FB)/H,(H-FT)/H],range:[-2761.05,-2743.0],tickmode:'array',tickvals:latTicks,
    title:{text:'Latitude (km)',standoff:19,font:{family:FONT,size:16,color:'#111'}}})
};
Plotly.newPlot('chart',traces,layout,{displayModeBar:false,staticPlot:true});
</script>
</body>
</html>
